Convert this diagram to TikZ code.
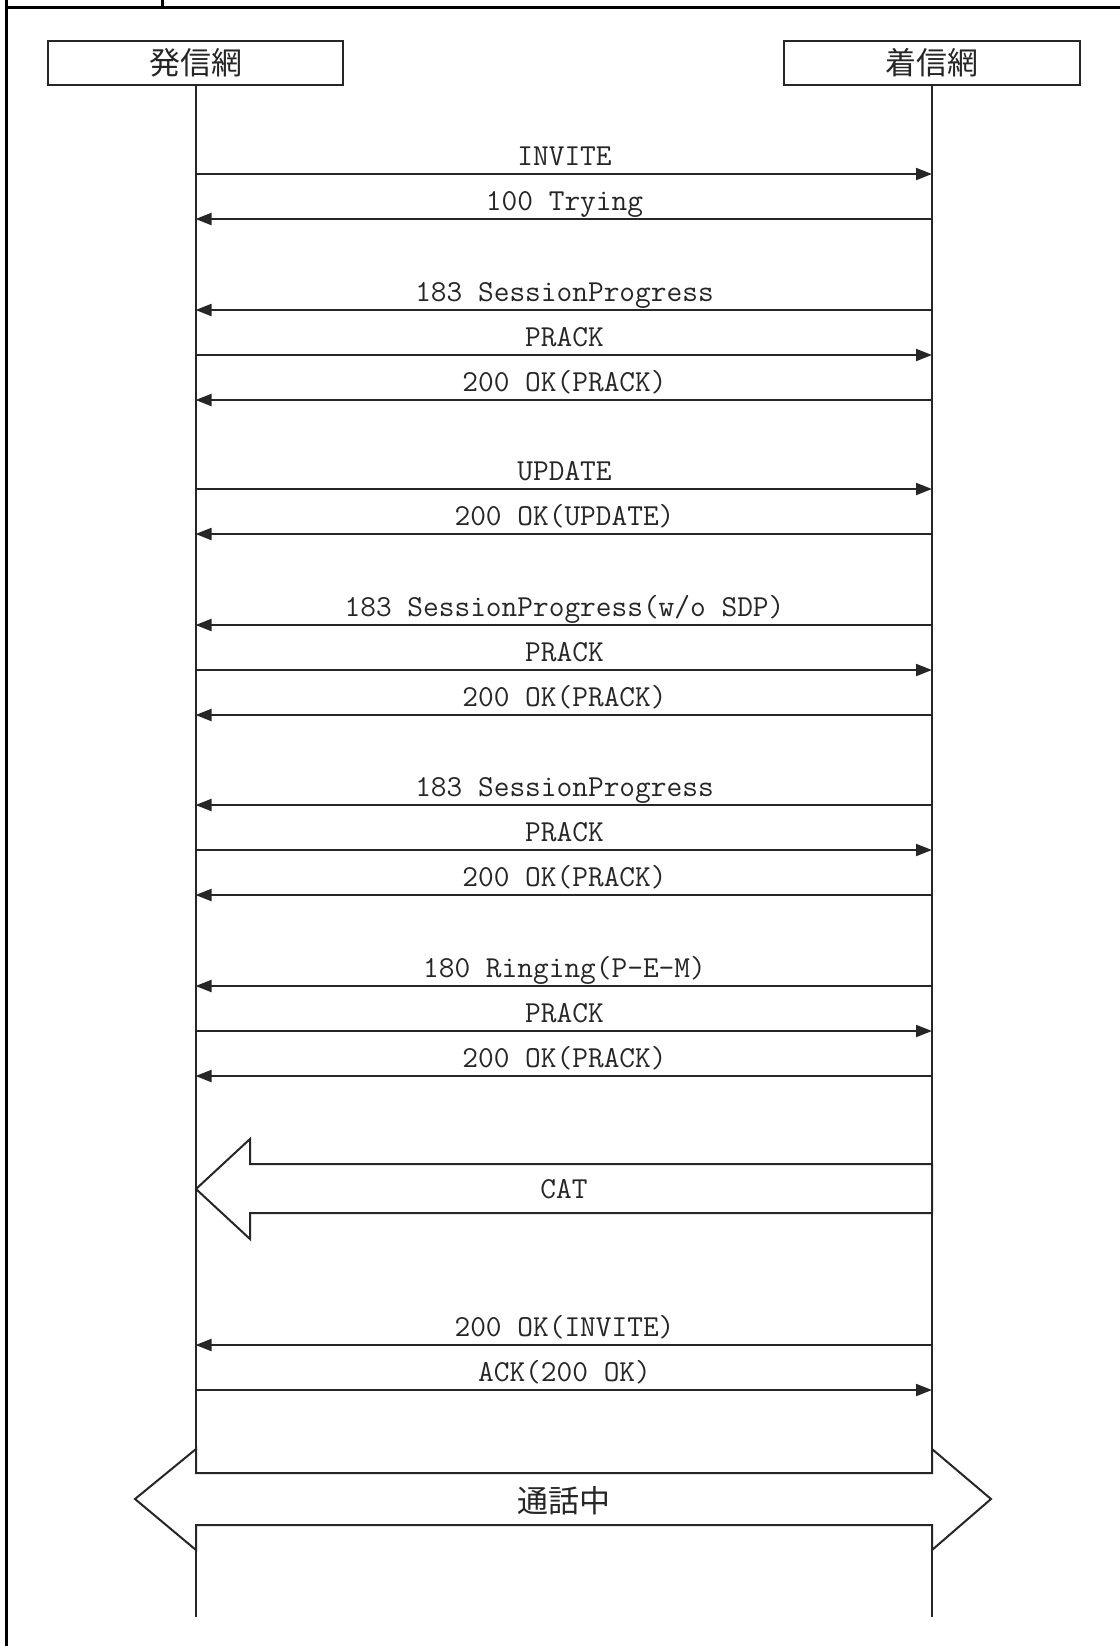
\documentclass[tikz,border=0pt]{standalone}
\usepackage{fontspec}
\newfontfamily\jpfont{Noto Sans CJK JP}
\usetikzlibrary{arrows.meta}
\begin{document}
\begin{tikzpicture}[x=0.5pt,y=-0.5pt,
  frame/.style={draw=black,line width=1.5pt},
  hdr/.style={draw=black!85,line width=1pt,minimum height=22pt,inner sep=0pt,
              font=\fontsize{15.5}{18}\selectfont\jpfont,text=black!85},
  life/.style={draw=black!85,line width=1pt},
  msg/.style={draw=black!85,line width=1pt,-{Triangle[length=8pt,width=6pt]}},
  lbl/.style={anchor=base,inner sep=0pt,font=\fontsize{15.25}{18}\selectfont\ttfamily,text=black!85},
  blk/.style={draw=black!85,line width=1pt,line join=miter}]
\useasboundingbox (0,0) rectangle (1120,1646);
% frame
\draw[frame] (6,0) -- (6,1646);
\draw[frame] (5,7) -- (1120,7);
\draw[frame] (162,0) -- (162,7);
% headers
\node[hdr,minimum width=147.5pt] (A) at (195.5,63) {発信網};
\node[hdr,minimum width=148pt] (B) at (932,63) {着信網};
\coordinate (Aend) at (A.south |- 0,1617);
\coordinate (Bend) at (B.south |- 0,1617);
\draw[life] (A.south) -- (Aend);
\draw[life] (B.south) -- (Bend);
% messages
\newcommand\msgR[2]{\draw[msg] (A.south |- 0,#1) -- (B.south |- 0,#1);
  \node[lbl] at (564.5,{#1-9}) {#2};}
\newcommand\msgL[2]{\draw[msg] (B.south |- 0,#1) -- (A.south |- 0,#1);
  \node[lbl] at (564.5,{#1-9}) {#2};}
\msgR{174}{INVITE}
\msgL{219}{100 Trying}
\msgL{310}{183 SessionProgress}
\msgR{355}{PRACK}
\msgL{400}{200 OK(PRACK)}
\msgR{489}{UPDATE}
\msgL{534}{200 OK(UPDATE)}
\msgL{625}{183 SessionProgress(w/o SDP)}
\msgR{670}{PRACK}
\msgL{715}{200 OK(PRACK)}
\msgL{805}{183 SessionProgress}
\msgR{850}{PRACK}
\msgL{895}{200 OK(PRACK)}
\msgL{986}{180 Ringing(P-E-M)}
\msgR{1031}{PRACK}
\msgL{1076}{200 OK(PRACK)}
% CAT block arrow
\draw[blk] (196,1189) -- (250,1139) -- (250,1164) -- (932,1164) -- (932,1213)
  -- (250,1213) -- (250,1239) -- cycle;
\node[inner sep=0pt,font=\fontsize{15.25}{18}\selectfont\ttfamily,text=black!85] (cat) at (564,1189) {CAT};
\msgL{1345}{200 OK(INVITE)}
\msgR{1390}{ACK(200 OK)}
% call in progress double arrow
\draw[blk,fill=white] (135,1499) -- (196,1449) -- (196,1473) -- (932,1473) -- (932,1449)
  -- (991,1499) -- (932,1550) -- (932,1525) -- (196,1525) -- (196,1550) -- cycle;
\node[inner sep=0pt,font=\fontsize{15.5}{18}\selectfont\jpfont,text=black!85] (talk) at (564,1501) {通話中};
\end{tikzpicture}
\end{document}
